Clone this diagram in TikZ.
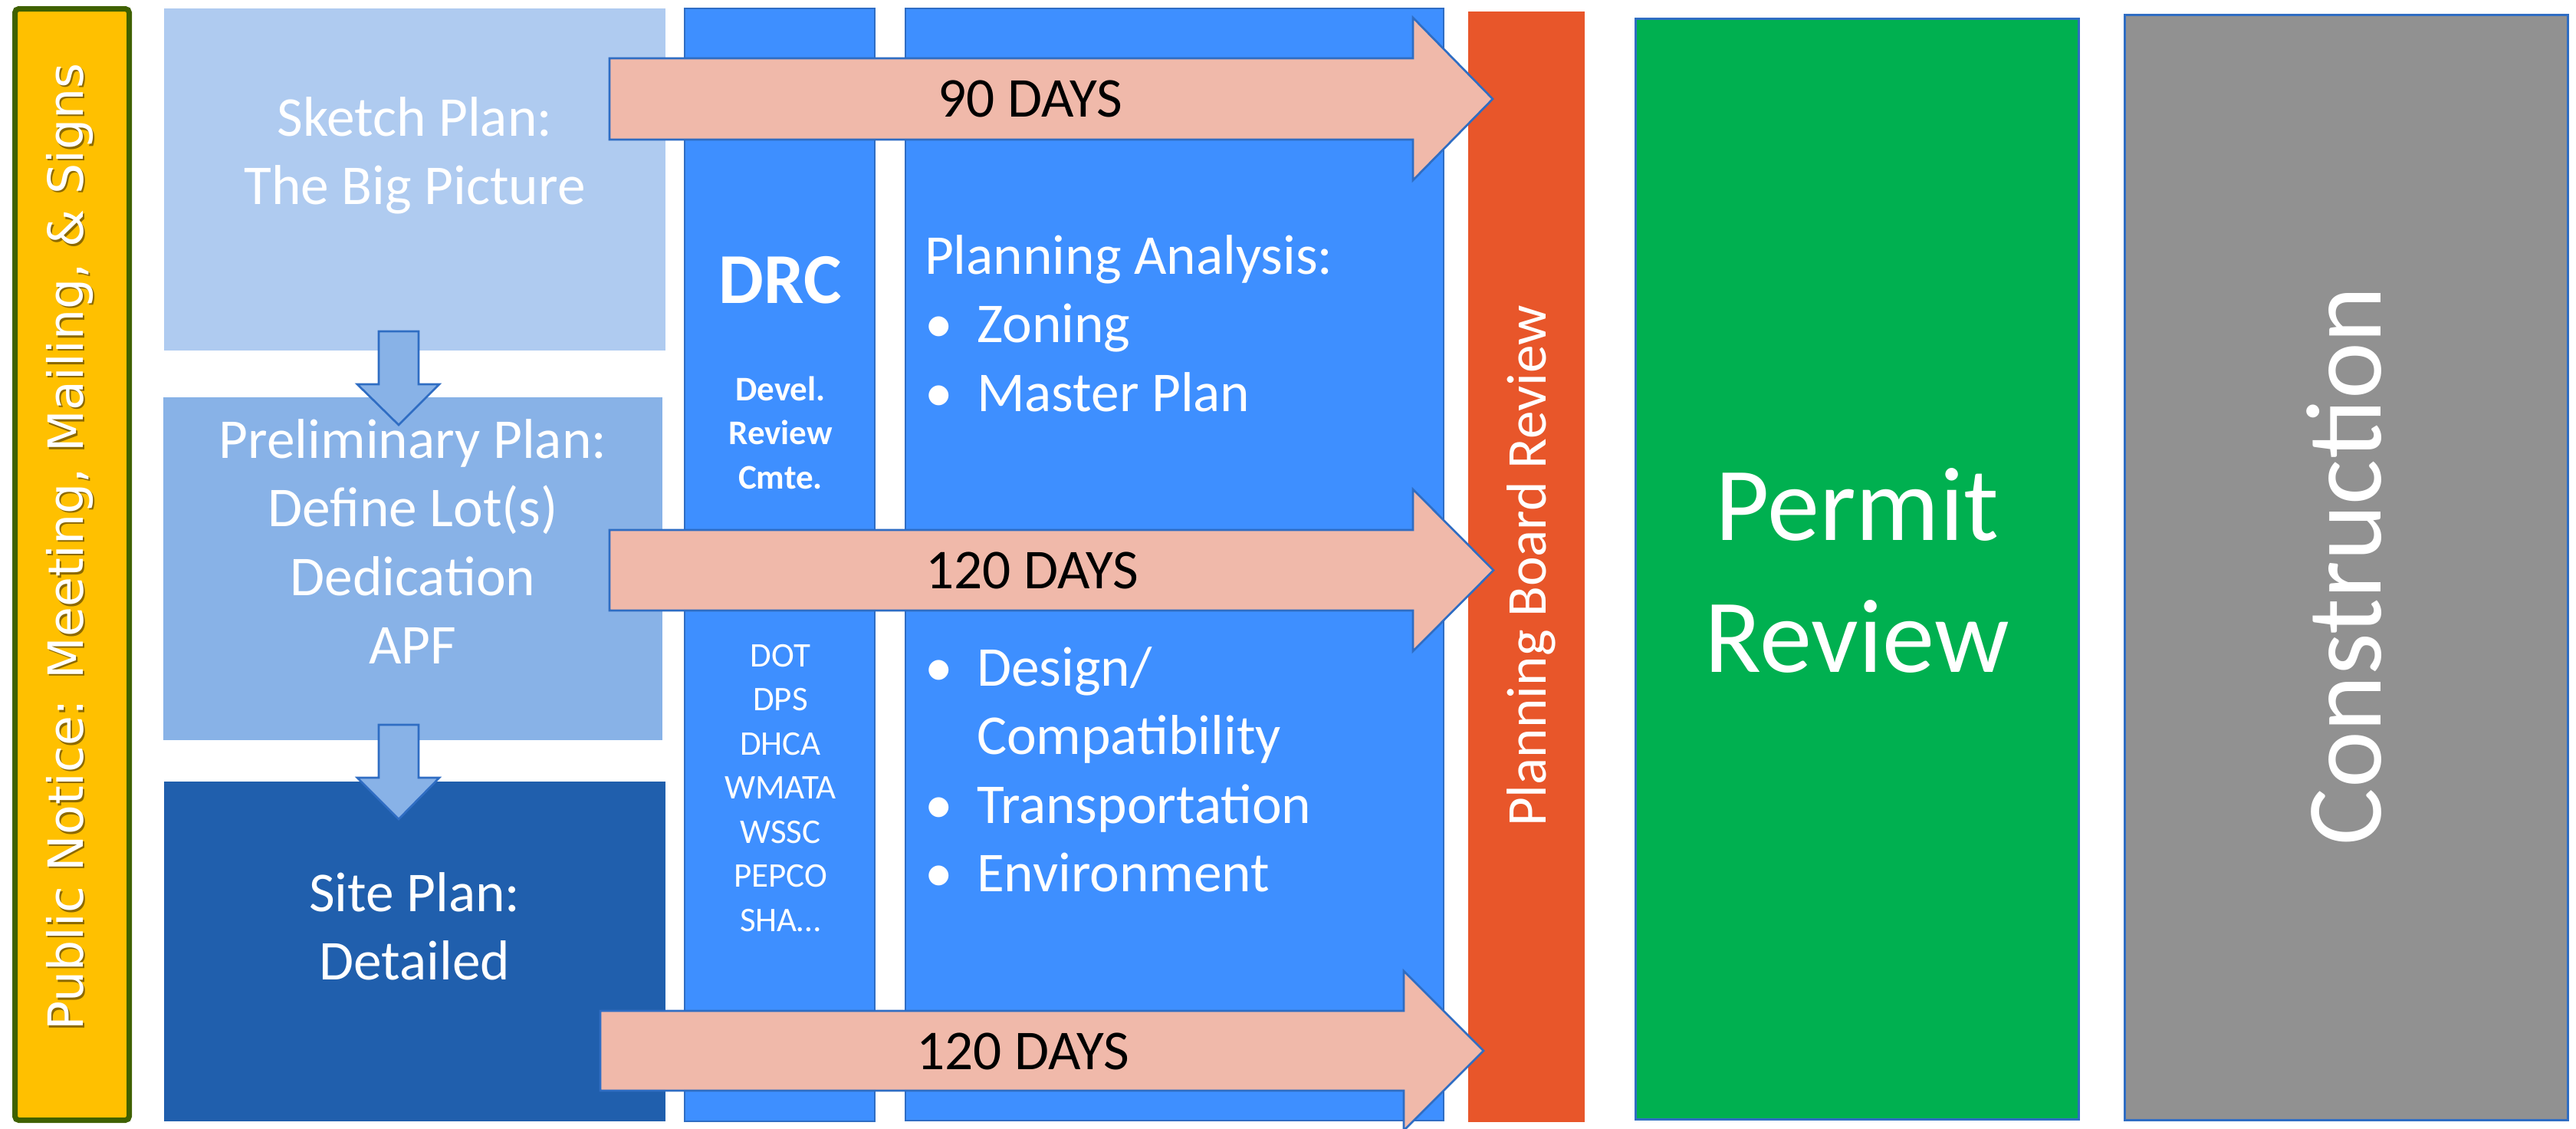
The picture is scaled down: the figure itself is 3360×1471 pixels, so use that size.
\documentclass[tikz,border=0pt]{standalone}
\usepackage{fontspec}
\setmainfont{Carlito}
\newfontfamily\dejavu{DejaVu Sans}
\definecolor{ynotice}{HTML}{FFC000}
\definecolor{yborder}{HTML}{3F6100}
\definecolor{sketchc}{HTML}{AFCBF0}
\definecolor{prelimc}{HTML}{88B2E7}
\definecolor{sitec}{HTML}{205FAD}
\definecolor{colc}{HTML}{3E8FFF}
\definecolor{edgec}{HTML}{2F6DC3}
\definecolor{arrowc}{HTML}{F0B9AA}
\definecolor{redc}{HTML}{E8562A}
\definecolor{greenc}{HTML}{00B050}
\definecolor{greyc}{HTML}{919191}
\newcommand\pxbox[6]{\node[#2, anchor=north west, minimum width={(#5-#3)*0.3pt}, minimum height={(#6-#4)*0.3pt}] (#1) at (#3,#4) {};}
\newcommand\blt{\makebox[20.4pt][l]{•}}
\begin{document}
\begin{tikzpicture}[x=0.3pt, y=-0.3pt,
  plain/.style={rectangle, inner sep=0pt, outer sep=0pt},
  noticebox/.style={plain, fill=ynotice, draw=yborder, line width=2.1pt, rounded corners=1.5pt},
  stagebox/.style={plain},
  colbox/.style={plain, fill=colc, draw=edgec, line width=0.8pt},
  endbox/.style={plain, draw=edgec, line width=0.9pt},
  blockarrow/.style={fill=arrowc, draw=edgec, line width=0.8pt, line join=miter},
  downarrow/.style={fill=prelimc, draw=edgec, line width=0.8pt, line join=miter},
  wtxt/.style={text=white, inner sep=0pt, outer sep=0pt},
  btxt/.style={text=black, inner sep=0pt, outer sep=0pt},
  f22/.style={font=\fontsize{22pt}{26.85pt}\selectfont},
  fsmall/.style={font=\fontsize{13.5pt}{17.25pt}\selectfont},
  fsmallbold/.style={font=\bfseries\fontsize{13.5pt}{17.25pt}\selectfont},
]
\useasboundingbox (0,0) rectangle (3360,1471);
\clip (0,0) rectangle (3360,1471);

% boxes and columns
\pxbox{notice}{noticebox}{19.5}{11.5}{168.5}{1460.5}
\pxbox{sketch}{stagebox, fill=sketchc}{214}{11}{868}{457}
\pxbox{prelim}{stagebox, fill=prelimc}{213}{518}{864}{965}
\pxbox{site}{stagebox, fill=sitec}{214}{1019}{868}{1462}
\pxbox{drc}{colbox}{893}{11}{1141}{1462}
\pxbox{analysis}{colbox}{1181}{11}{1883}{1461}
\pxbox{board}{plain, fill=redc}{1915}{15}{2067}{1463}
\pxbox{permit}{endbox, fill=greenc}{2133}{24}{2711}{1459}
\pxbox{constr}{endbox, fill=greyc}{2771}{19}{3349}{1460}

% down arrows between plan stages
\draw[downarrow] (494,432) -- (546,432) -- (546,501) -- (573,501) -- (520,554) -- (466,501) -- (494,501) -- cycle;
\draw[downarrow] (494,945) -- (546,945) -- (546,1014) -- (573,1014) -- (520,1068) -- (466,1014) -- (494,1014) -- cycle;

% review-period arrows
\draw[blockarrow] (795,76) -- (1843,76) -- (1843,23) -- (1947,129) -- (1843,235) -- (1843,182) -- (795,182) -- cycle;
\draw[blockarrow] (795,691) -- (1843,691) -- (1843,638) -- (1948,743.5) -- (1843,849) -- (1843,796) -- (795,796) -- cycle;
\draw[blockarrow] (783,1318) -- (1831,1318) -- (1831,1266) -- (1935,1370) -- (1831,1474) -- (1831,1422) -- (783,1422) -- cycle;

% texts
\node[text=black, opacity=0.45, inner sep=0pt, rotate=90, anchor=base, font=\dejavu\fontsize{19pt}{23pt}\selectfont] (noticeshadow) at (110.5,715.5) {Public Notice: Meeting, Mailing, \& Signs};
\node[wtxt, rotate=90, anchor=base, font=\dejavu\fontsize{19pt}{23pt}\selectfont] (noticetxt) at (108,713) {Public Notice: Meeting, Mailing, \& Signs};

\node[wtxt, f22, anchor=north, align=center] (sketchtxt) at (541,114.35) {\strut Sketch Plan:\\The Big Picture};
\node[wtxt, f22, anchor=north, align=center] (prelimtxt) at (538.5,534.35) {\strut Preliminary Plan:\\Define Lot(s)\\Dedication\\APF};
\node[wtxt, f22, anchor=north, align=center] (sitetxt) at (541,1125.35) {\strut Site Plan:\\Detailed};

\node[wtxt, anchor=base, font=\bfseries\fontsize{28pt}{33pt}\selectfont] (drctxt) at (1018,395) {DRC};
\node[wtxt, fsmallbold, anchor=north, align=center] (drcname) at (1018,481.75) {\strut Devel.\\Review\\Cmte.};
\node[wtxt, fsmall, anchor=north, align=center] (agencies) at (1018,828.75) {\strut DOT\\DPS\\DHCA\\WMATA\\WSSC\\PEPCO\\SHA…};

\node[wtxt, f22, anchor=north west, align=left] (analysistxt) at (1206,294.35) {\strut Planning Analysis:\\\blt Zoning\\\blt Master Plan\\[80.55pt]\blt Design/\\\hspace*{20.4pt}Compatibility\\\blt Transportation\\\blt Environment};

\node[btxt, f22, anchor=base] (d90) at (1344,152) {90 DAYS};
\node[btxt, f22, anchor=base] (d120a) at (1346,767) {120 DAYS};
\node[btxt, f22, anchor=base] (d120b) at (1334,1394) {120 DAYS};

\node[wtxt, f22, rotate=90, anchor=base] (boardtxt) at (2016,738) {Planning Board Review};
\node[wtxt, anchor=north, align=center, font=\fontsize{41pt}{51.6pt}\selectfont] (permittxt) at (2422,583.6) {\strut Permit\\Review};
\node[wtxt, rotate=90, anchor=base, font=\fontsize{42pt}{50pt}\selectfont] (constrtxt) at (3105,738) {Construction};
\end{tikzpicture}
\end{document}
